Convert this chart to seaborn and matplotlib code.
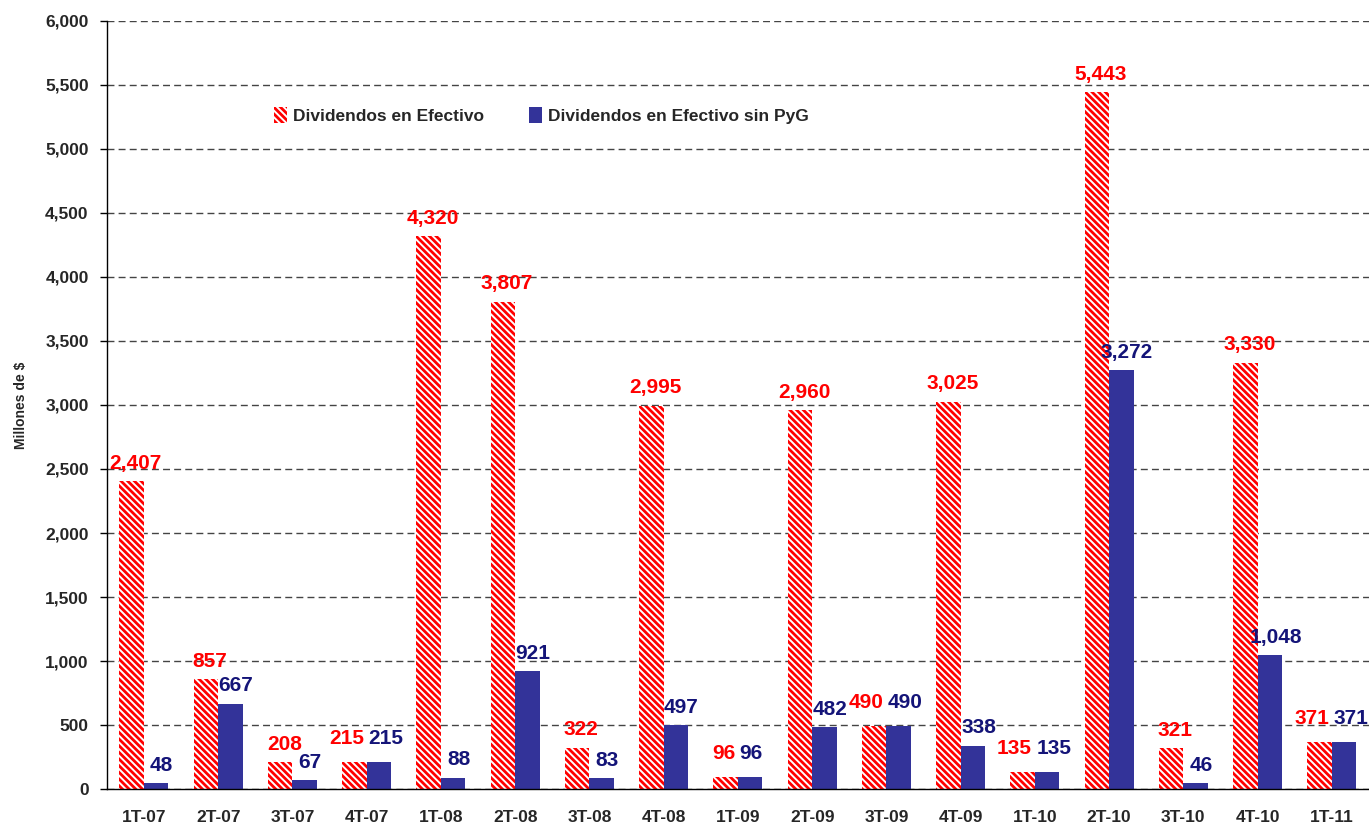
import pandas as pd
import matplotlib
matplotlib.use("Agg")
import matplotlib.pyplot as plt
import seaborn as sns
from matplotlib.patches import Patch

# data
trimestres = ['1T-07', '2T-07', '3T-07', '4T-07', '1T-08', '2T-08', '3T-08', '4T-08', '1T-09',
              '2T-09', '3T-09', '4T-09', '1T-10', '2T-10', '3T-10', '4T-10', '1T-11']
efectivo = [2407, 857, 208, 215, 4320, 3807, 322, 2995, 96, 2960, 490, 3025, 135, 5443, 321, 3330, 371]
sin_pyg = [48, 667, 67, 215, 88, 921, 83, 497, 96, 482, 490, 338, 135, 3272, 46, 1048, 371]
serie1 = 'Dividendos en Efectivo'
serie2 = 'Dividendos en Efectivo sin PyG'

rojo = '#FF0000'
azul = '#333399'
azul_txt = '#141478'
rayas = '\\' * 5

df = pd.DataFrame({'trimestre': trimestres * 2,
                   'valor': efectivo + sin_pyg,
                   'serie': [serie1] * len(trimestres) + [serie2] * len(trimestres)})

sns.set_style('white')
plt.rcParams['font.family'] = ['Liberation Sans', 'DejaVu Sans']
plt.rcParams['hatch.linewidth'] = 2.0

fig = plt.figure(figsize=(13.69, 8.25), dpi=100)
ax = fig.add_axes([0.078, 0.0436, 0.922, 0.931])

sns.barplot(data=df, x='trimestre', y='valor', hue='serie', order=trimestres,
            palette={serie1: 'white', serie2: azul}, width=0.66, saturation=1,
            legend=False, ax=ax)

c1, c2 = ax.containers[0], ax.containers[1]
for p in c1:
    p.set_hatch(rayas)
    p.set_edgecolor(rojo)
    p.set_linewidth(0)
for p in c2:
    p.set_linewidth(0)

# value labels; when both values are equal they sit side by side over the bar join
lbl = dict(fontsize=15, fontweight='bold', textcoords='offset points', va='bottom')
for i in range(len(trimestres)):
    p1, p2 = c1[i], c2[i]
    if efectivo[i] == sin_pyg[i]:
        xj = p1.get_x() + p1.get_width()
        ax.annotate(f'{efectivo[i]:,}', (xj, efectivo[i]), xytext=(-2, 10), ha='right',
                    color=rojo, **lbl)
        ax.annotate(f'{sin_pyg[i]:,}', (xj, sin_pyg[i]), xytext=(1, 10), ha='left',
                    color=azul_txt, **lbl)
    else:
        ax.annotate(f'{efectivo[i]:,}', (p1.get_x() + p1.get_width() / 2, efectivo[i]),
                    xytext=(3, 6), ha='center', color=rojo, **lbl)
        ax.annotate(f'{sin_pyg[i]:,}', (p2.get_x() + p2.get_width() / 2, sin_pyg[i]),
                    xytext=(4, 6), ha='center', color=azul_txt, **lbl)

ax.set_ylim(0, 6000)
ax.set_xlim(-0.5, len(trimestres) - 0.5)
ax.set_yticks(range(0, 6001, 500))
ax.set_yticklabels([f'{v:,}' for v in range(0, 6001, 500)], fontsize=12.5, fontweight='bold')
ax.set_xticks(range(len(trimestres)))
ax.set_xticklabels(trimestres, fontsize=12.5, fontweight='bold')
ax.set_xticks([i + 0.5 for i in range(-1, len(trimestres))], minor=True)
ax.tick_params(axis='x', which='major', length=0, pad=15)
ax.tick_params(axis='x', which='minor', length=5, width=1, color='black', direction='out')
ax.tick_params(axis='y', length=5, width=1, color='black', direction='out', pad=8, left=True)

ax.set_xlabel('')
ax.set_ylabel('Millones de $', fontsize=10, fontweight='bold', labelpad=12)

ax.yaxis.grid(True, color='#444444', linestyle=(0, (5, 3)), linewidth=1)
ax.set_axisbelow(True)
for s in ['top', 'right']:
    ax.spines[s].set_visible(False)
for s in ['left', 'bottom']:
    ax.spines[s].set_color('black')
    ax.spines[s].set_linewidth(1)

handles = [Patch(facecolor='white', edgecolor=rojo, hatch=rayas, linewidth=0, label=serie1),
           Patch(facecolor=azul, edgecolor=azul, linewidth=0, label=serie2)]
ax.legend(handles=handles, loc='center left', bbox_to_anchor=(0.12, 0.877), ncol=2,
          frameon=False, handlelength=0.75, handleheight=1.0, handletextpad=0.35,
          columnspacing=2.6, prop={'size': 12.5, 'weight': 'bold'})

fig.savefig('out.png', dpi=100)
